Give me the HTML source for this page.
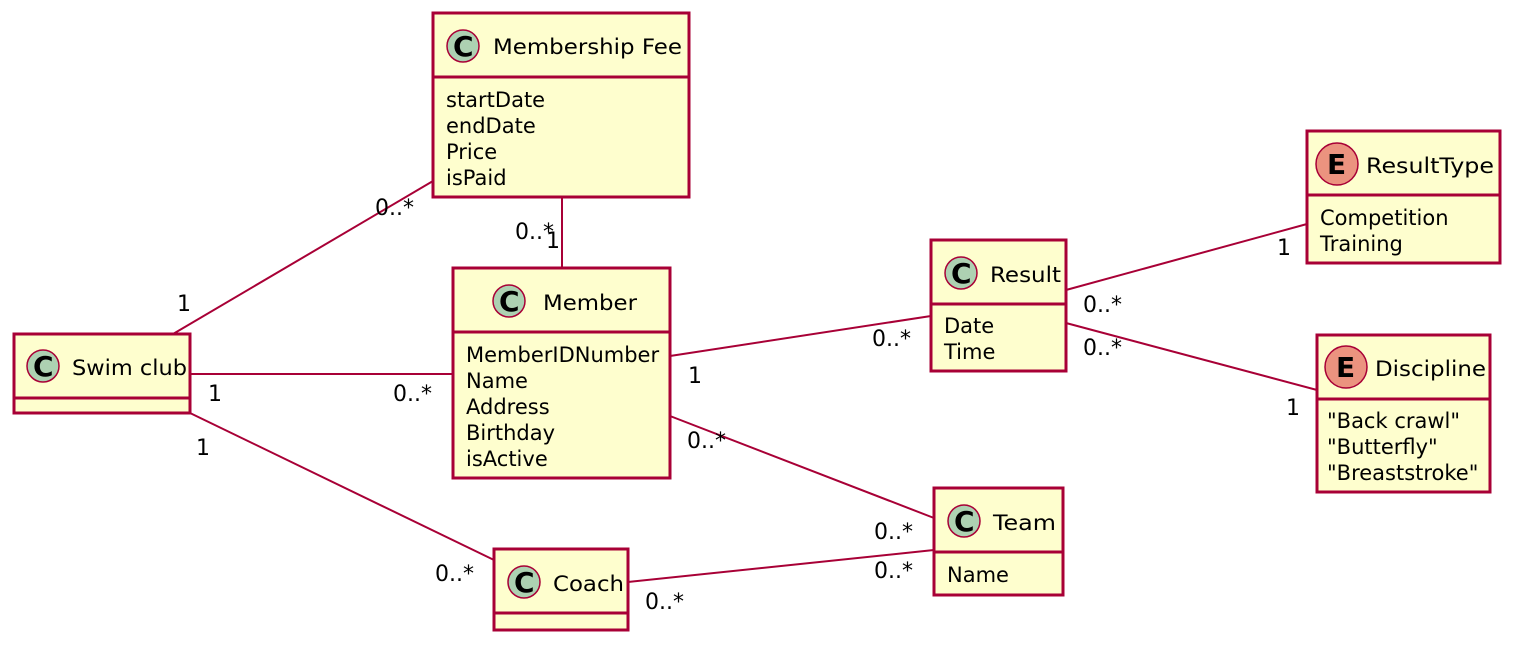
<!DOCTYPE html>
<html><head><meta charset="utf-8"><style>
html,body{margin:0;padding:0;background:#fff;}
svg{display:block;}
text{font-family:"DejaVu Sans","Liberation Sans",sans-serif;font-size:21px;fill:#000;}
.lb{font-size:22px;}
.b{fill:#FEFECE;stroke:#A80036;stroke-width:3;}
.s{stroke:#A80036;stroke-width:3;}
.l{stroke:#A80036;stroke-width:2;fill:none;}
.ci{fill:#ADD1B2;stroke:#A80036;stroke-width:1.5;}
.ei{fill:#EB937F;stroke:#A80036;stroke-width:1.5;}
.ic{font-weight:bold;font-size:28px;}
</style></head><body>
<svg width="1528" height="658" viewBox="0 0 1528 658" xmlns="http://www.w3.org/2000/svg">
<line class="l" x1="173" y1="334" x2="433" y2="181"/>
<line class="l" x1="562" y1="197" x2="562" y2="268"/>
<line class="l" x1="190" y1="374" x2="453" y2="374"/>
<line class="l" x1="190" y1="413" x2="494" y2="560"/>
<line class="l" x1="670" y1="356" x2="931" y2="316"/>
<line class="l" x1="670" y1="416" x2="934" y2="518"/>
<line class="l" x1="628" y1="582" x2="934" y2="550"/>
<line class="l" x1="1066" y1="290" x2="1307" y2="224"/>
<line class="l" x1="1066" y1="323" x2="1317" y2="390"/>
<g class="lbs">
<text class="lb" x="177" y="311">1</text>
<text class="lb" x="375" y="215">0..*</text>
<text class="lb" x="515" y="239">0..*</text>
<text class="lb" x="546" y="248">1</text>
<text class="lb" x="208" y="401">1</text>
<text class="lb" x="393" y="401">0..*</text>
<text class="lb" x="196" y="455">1</text>
<text class="lb" x="435" y="581">0..*</text>
<text class="lb" x="688" y="383">1</text>
<text class="lb" x="872" y="346">0..*</text>
<text class="lb" x="687" y="448">0..*</text>
<text class="lb" x="874" y="539">0..*</text>
<text class="lb" x="645" y="609">0..*</text>
<text class="lb" x="874" y="578">0..*</text>
<text class="lb" x="1083" y="312">0..*</text>
<text class="lb" x="1277" y="255">1</text>
<text class="lb" x="1083" y="355">0..*</text>
<text class="lb" x="1286" y="415">1</text>
</g>

<rect class="b" x="433" y="13" width="256" height="184"/>
<line class="s" x1="433" y1="77" x2="689" y2="77"/>
<circle class="ci" cx="463" cy="46" r="16"/><text class="ic" x="453" y="56">C</text>
<text x="493" y="54" textLength="189" lengthAdjust="spacingAndGlyphs">Membership Fee</text>
<text x="446" y="107">startDate</text><text x="446" y="133">endDate</text><text x="446" y="159">Price</text><text x="446" y="185">isPaid</text>

<rect class="b" x="14" y="334" width="176" height="79"/>
<line class="s" x1="14" y1="398" x2="190" y2="398"/>
<circle class="ci" cx="43" cy="366" r="16"/><text class="ic" x="33" y="376">C</text>
<text x="72" y="375" textLength="115" lengthAdjust="spacingAndGlyphs">Swim club</text>

<rect class="b" x="453" y="268" width="217" height="210"/>
<line class="s" x1="453" y1="332" x2="670" y2="332"/>
<circle class="ci" cx="509" cy="301" r="16"/><text class="ic" x="499" y="311">C</text>
<text x="543" y="310" textLength="94" lengthAdjust="spacingAndGlyphs">Member</text>
<text x="466" y="362">MemberIDNumber</text><text x="466" y="388">Name</text><text x="466" y="414">Address</text><text x="466" y="440">Birthday</text><text x="466" y="466">isActive</text>

<rect class="b" x="494" y="549" width="134" height="81"/>
<line class="s" x1="494" y1="613" x2="628" y2="613"/>
<circle class="ci" cx="524" cy="582" r="16"/><text class="ic" x="514" y="592">C</text>
<text x="553" y="591" textLength="71" lengthAdjust="spacingAndGlyphs">Coach</text>

<rect class="b" x="931" y="240" width="135" height="131"/>
<line class="s" x1="931" y1="304" x2="1066" y2="304"/>
<circle class="ci" cx="961" cy="273" r="16"/><text class="ic" x="951" y="283">C</text>
<text x="990" y="282" textLength="71" lengthAdjust="spacingAndGlyphs">Result</text>
<text x="944" y="333">Date</text><text x="944" y="359">Time</text>

<rect class="b" x="934" y="488" width="129" height="107"/>
<line class="s" x1="934" y1="552" x2="1063" y2="552"/>
<circle class="ci" cx="964" cy="521" r="16"/><text class="ic" x="954" y="531">C</text>
<text x="993" y="530" textLength="63" lengthAdjust="spacingAndGlyphs">Team</text>
<text x="947" y="582">Name</text>

<rect class="b" x="1307" y="131" width="193" height="132"/>
<line class="s" x1="1307" y1="195" x2="1500" y2="195"/>
<circle class="ei" cx="1337" cy="164" r="21"/><text class="ic" x="1327" y="174">E</text>
<text x="1366" y="173" textLength="128" lengthAdjust="spacingAndGlyphs">ResultType</text>
<text x="1320" y="225">Competition</text><text x="1320" y="251">Training</text>

<rect class="b" x="1317" y="335" width="173" height="157"/>
<line class="s" x1="1317" y1="399" x2="1490" y2="399"/>
<circle class="ei" cx="1346" cy="367" r="21"/><text class="ic" x="1336" y="377">E</text>
<text x="1375" y="376" textLength="111" lengthAdjust="spacingAndGlyphs">Discipline</text>
<text x="1327" y="428">"Back crawl"</text><text x="1327" y="454">"Butterfly"</text><text x="1327" y="480">"Breaststroke"</text>
</svg>
</body></html>
